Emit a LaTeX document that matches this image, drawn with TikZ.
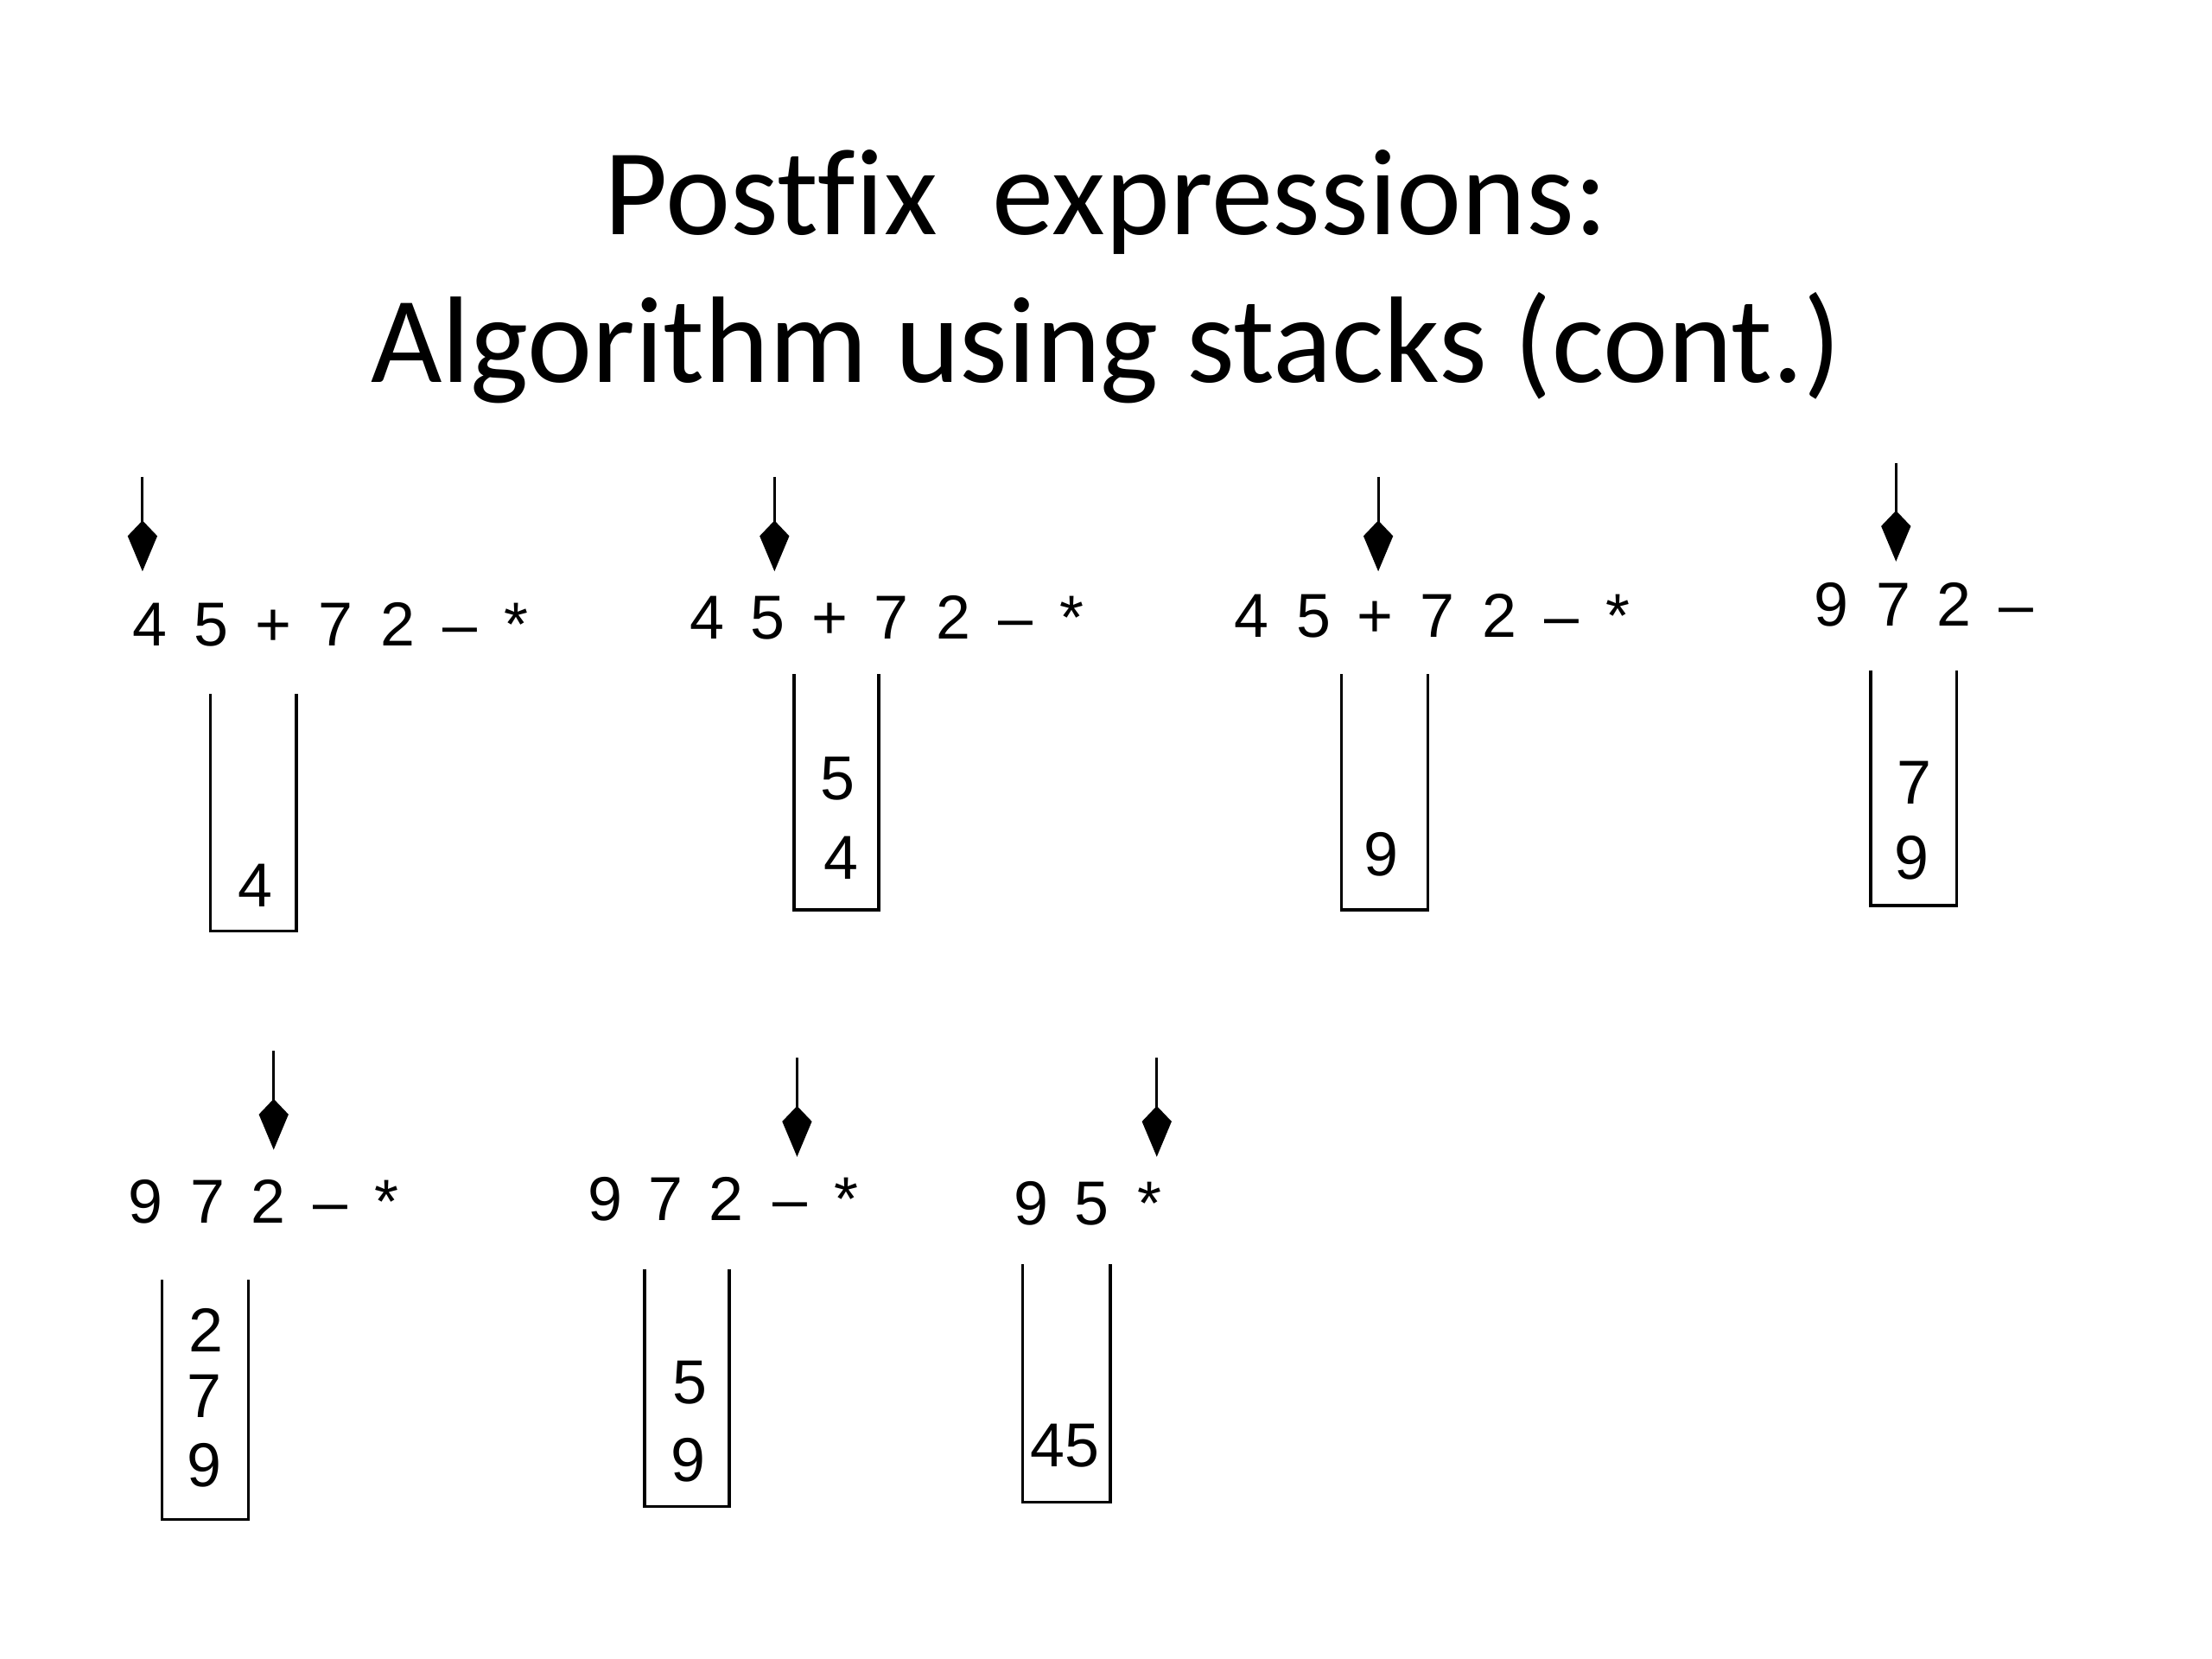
\documentclass[tikz,border=0pt]{standalone}
\usepackage{fontspec}
\setmainfont{Carlito}[Ligatures=NoCommon]
\newfontfamily\exprfont{Liberation Sans}
\usetikzlibrary{arrows.meta}

\tikzset{
  tok/.style={font=\exprfont\fontsize{12.5}{14}\selectfont, anchor=base, inner sep=0pt},
  stackbox/.style={line width=0.6pt},
  ptr/.style={-{Kite[length=3.6mm, width=2.1mm, inset=1.1mm]}, line width=0.5pt},
  ttl/.style={font=\fontsize{24.8}{29}\selectfont, anchor=base, inner sep=0pt}
}

\begin{document}
\begin{tikzpicture}[x=0.01cm, y=-0.01cm]
\useasboundingbox (0,0) rectangle (1568,1176);
% title
\node[ttl] (t1) at (784,166) {Postfix\ \ expressions:};
\node[ttl] (t2) at (784,271) {Algorithm using stacks (cont.)};

% first row
\foreach \t/\x [count=\i] in {4/106,5/150,+/194,7/238,2/282,–/326,*/366}
  \node[tok] (a-\i) at (\x,458) {\t};
\coordinate (pa) at (101,338); \coordinate (pat) at (101,405);
\draw[ptr] (pa) -- (pat);
\draw[stackbox] (149,492) |- (210,660) -- (210,492);
\node[tok] (sa1) at (181,643) {4};

\foreach \t/\x [count=\i] in {4/501,5/544,+/588,7/632,2/676,–/720,*/760}
  \node[tok] (b-\i) at (\x,453) {\t};
\coordinate (pb) at (549,338); \coordinate (pbt) at (549,405);
\draw[ptr] (pb) -- (pbt);
\draw[stackbox] (563,478) |- (623,645) -- (623,478);
\node[tok] (sb1) at (596,623) {4};
\node[tok] (sb2) at (594,567) {5};

\foreach \t/\x [count=\i] in {4/887,5/931,+/975,7/1019,2/1063,–/1107,*/1147}
  \node[tok] (c-\i) at (\x,452) {\t};
\coordinate (pc) at (977,338); \coordinate (pct) at (977,405);
\draw[ptr] (pc) -- (pct);
\draw[stackbox] (951,478) |- (1012,645) -- (1012,478);
\node[tok] (sc1) at (979,621) {9};

\foreach \t/\x [count=\i] in {9/1298,7/1342,2/1385,–/1429}
  \node[tok] (d-\i) at (\x,444) {\t};
\coordinate (pd) at (1344,328); \coordinate (pdt) at (1344,398);
\draw[ptr] (pd) -- (pdt);
\draw[stackbox] (1326,475) |- (1387,642) -- (1387,475);
\node[tok] (sd1) at (1355,623) {9};
\node[tok] (sd2) at (1357,570) {7};

% second row
\foreach \t/\x [count=\i] in {9/103,7/147,2/190,–/234,*/274}
  \node[tok] (e-\i) at (\x,867) {\t};
\coordinate (pe) at (194,745); \coordinate (pet) at (194,815);
\draw[ptr] (pe) -- (pet);
\draw[stackbox] (115,907) |- (176,1077) -- (176,907);
\node[tok] (se1) at (145,1054) {9};
\node[tok] (se2) at (145,1005) {7};
\node[tok] (se3) at (146,958) {2};

\foreach \t/\x [count=\i] in {9/429,7/472,2/515,–/560,*/600}
  \node[tok] (f-\i) at (\x,865) {\t};
\coordinate (pf) at (565,750); \coordinate (pft) at (565,820);
\draw[ptr] (pf) -- (pft);
\draw[stackbox] (457,900) |- (517,1068) -- (517,900);
\node[tok] (sf1) at (488,1050) {9};
\node[tok] (sf2) at (489,995) {5};

\foreach \t/\x [count=\i] in {9/731,5/774,*/815}
  \node[tok] (g-\i) at (\x,868) {\t};
\coordinate (pg) at (820,750); \coordinate (pgt) at (820,820);
\draw[ptr] (pg) -- (pgt);
\draw[stackbox] (725,896) |- (787,1065) -- (787,896);
\node[tok] (sg1) at (755,1040) {45};
\end{tikzpicture}
\end{document}
